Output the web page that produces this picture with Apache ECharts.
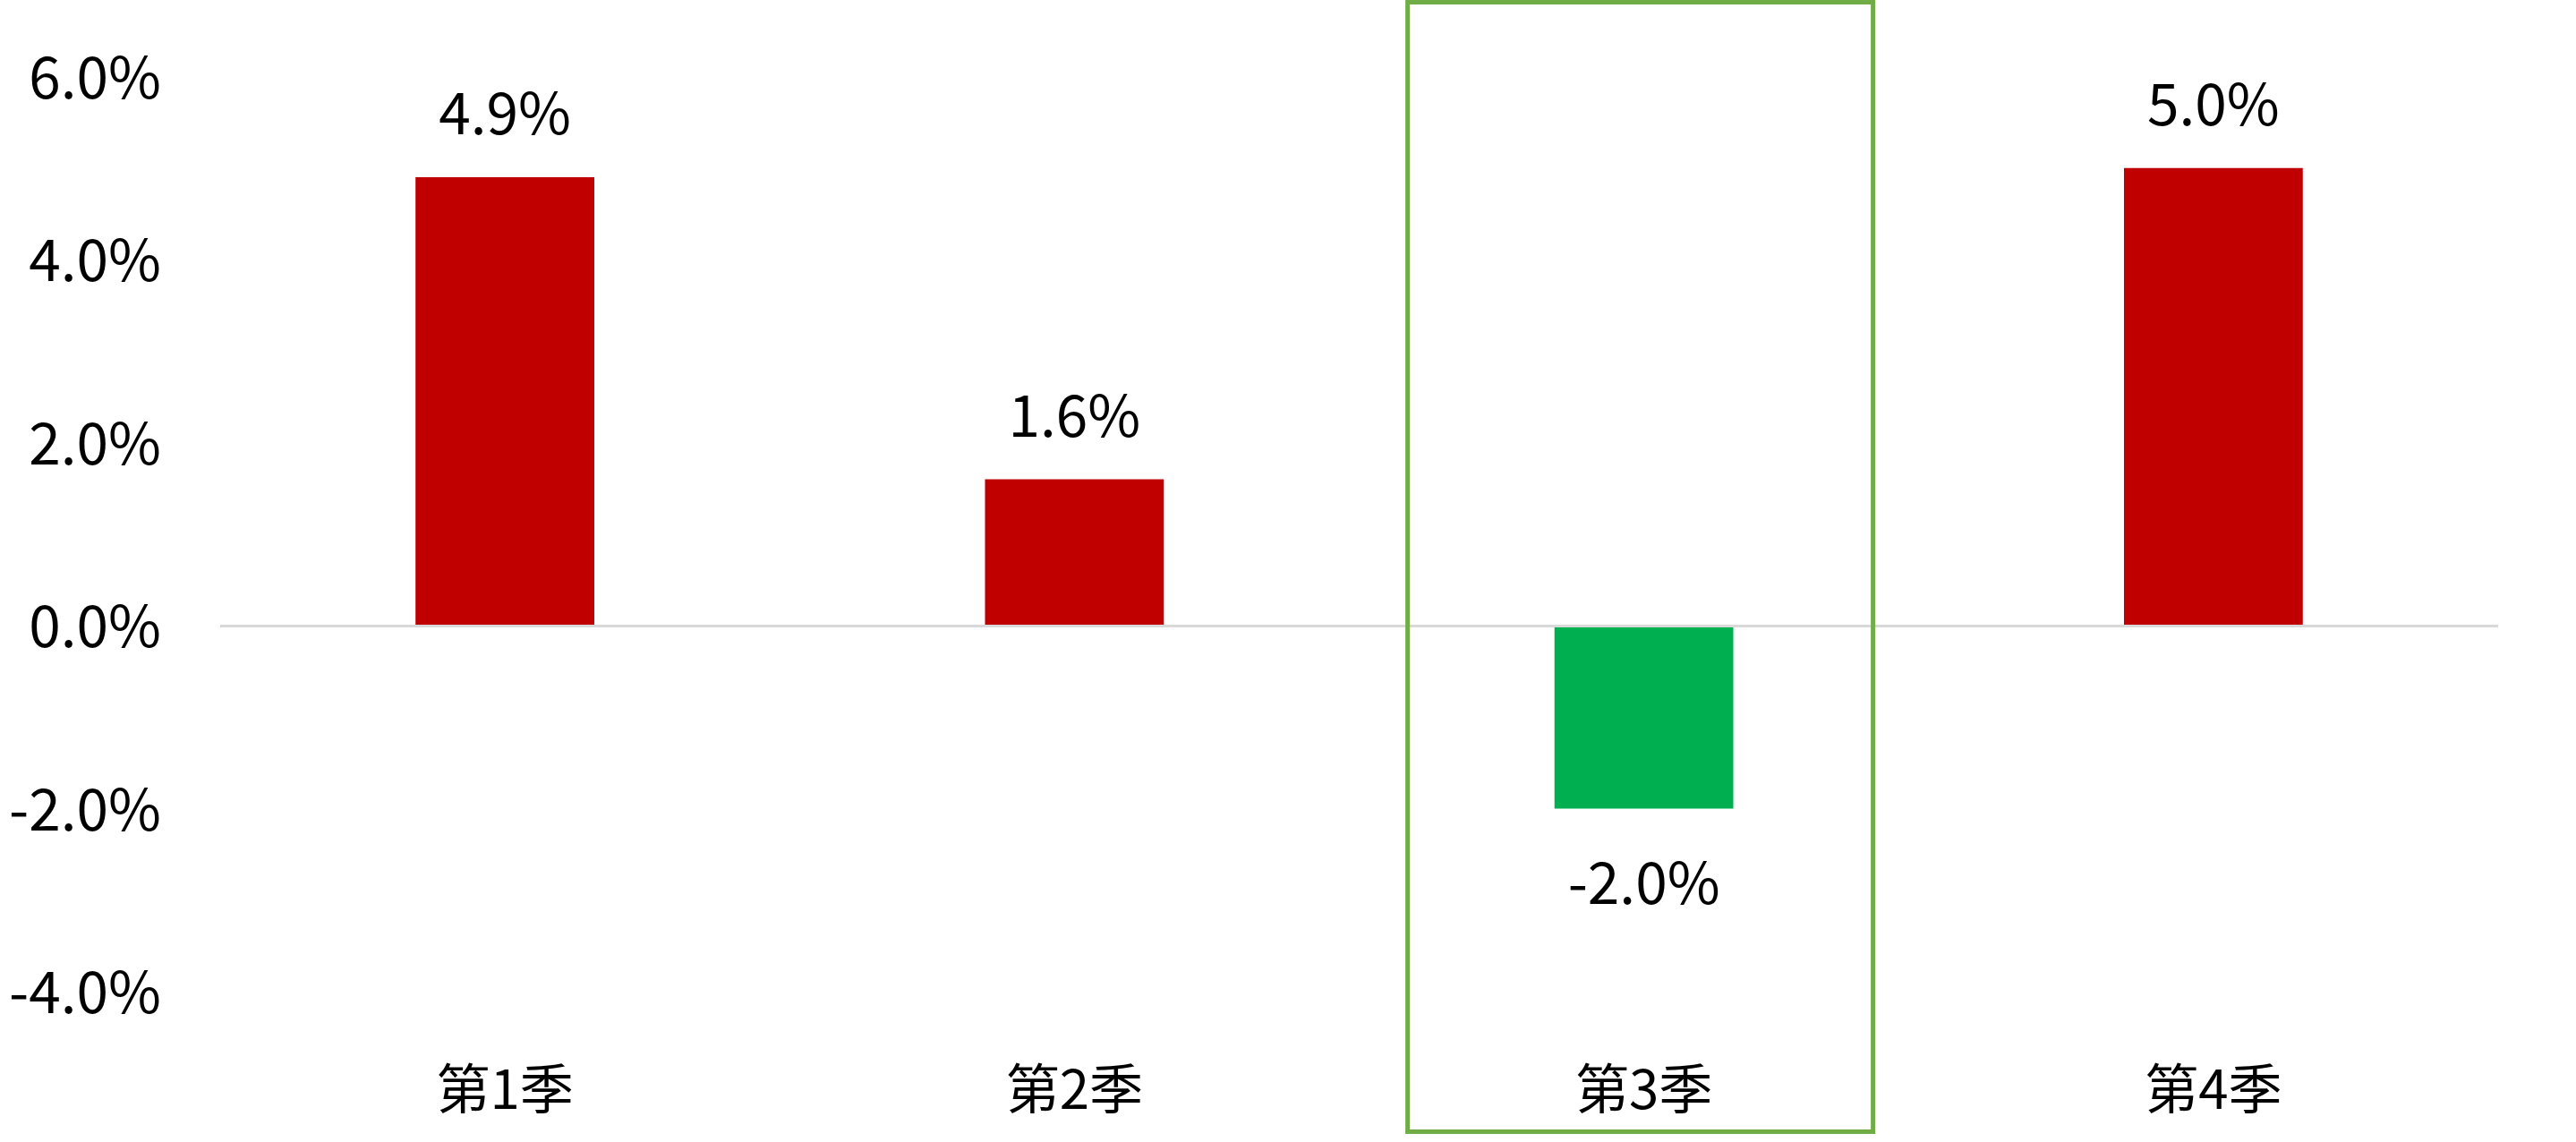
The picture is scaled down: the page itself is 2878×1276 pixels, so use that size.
<!DOCTYPE html>
<html>
<head>
<meta charset="utf-8">
<script src="https://cdn.jsdelivr.net/npm/echarts@6/dist/echarts.min.js"></script>
<style>
  html, body { margin: 0; padding: 0; background: #fff; }
  #chart { width: 2878px; height: 1276px; }
</style>
</head>
<body>
<div id="chart"></div>
<script>
// 季度資料
var categories = ['第1季', '第2季', '第3季', '第4季'];
var values = [4.9, 1.6, -2.0, 5.0];
var yTicks = { min: -4, max: 6, interval: 2 };
var highlightIndex = 2; // 框起來的那一季

var FONT = '"Noto Sans CJK TC", "Noto Sans", sans-serif';
var chart = echarts.init(document.getElementById('chart'));

var option = {
    animation: false,
    grid: { left: 246, right: 87, top: 85.5, bottom: 168, containLabel: false },
    xAxis: {
        type: 'category',
        data: categories,
        axisLine: { show: false },
        axisTick: { show: false },
        axisLabel: { color: '#000', fontSize: 60, fontFamily: FONT, margin: 78 }
    },
    yAxis: {
        type: 'value',
        min: yTicks.min,
        max: yTicks.max,
        interval: yTicks.interval,
        splitLine: { show: false },
        axisLine: { show: false },
        axisTick: { show: false },
        axisLabel: {
            color: '#000', fontSize: 64, fontFamily: FONT, margin: 66,
            formatter: function (v) { return v.toFixed(1) + '%'; }
        }
    },
    series: [{
        type: 'bar',
        barWidth: '31.4%',
        data: values.map(function (v) {
            return {
                value: v,
                itemStyle: { color: v < 0 ? '#00b050' : '#c00000' },
                label: { position: v < 0 ? 'bottom' : 'top', distance: v < 0 ? 50 : 40 }
            };
        }),
        label: {
            show: true,
            color: '#000',
            fontSize: 64,
            fontFamily: FONT,
            formatter: function (p) { return p.value.toFixed(1) + '%'; }
        },
        markLine: {
            silent: true,
            symbol: 'none',
            label: { show: false },
            lineStyle: { color: '#d9d9d9', width: 3, type: 'solid' },
            data: [{ yAxis: 0 }]
        }
    }]
};
chart.setOption(option);

// 第3季的綠色框
var cx = chart.convertToPixel({ xAxisIndex: 0 }, highlightIndex);
var boxW = 520;
chart.setOption({
    graphic: [{
        type: 'rect',
        silent: true,
        z: 10,
        shape: { x: cx - boxW / 2 - 4, y: 2.5, width: boxW, height: 1262 },
        style: { fill: 'none', stroke: '#70ad47', lineWidth: 5 }
    }]
});
</script>
</body>
</html>
